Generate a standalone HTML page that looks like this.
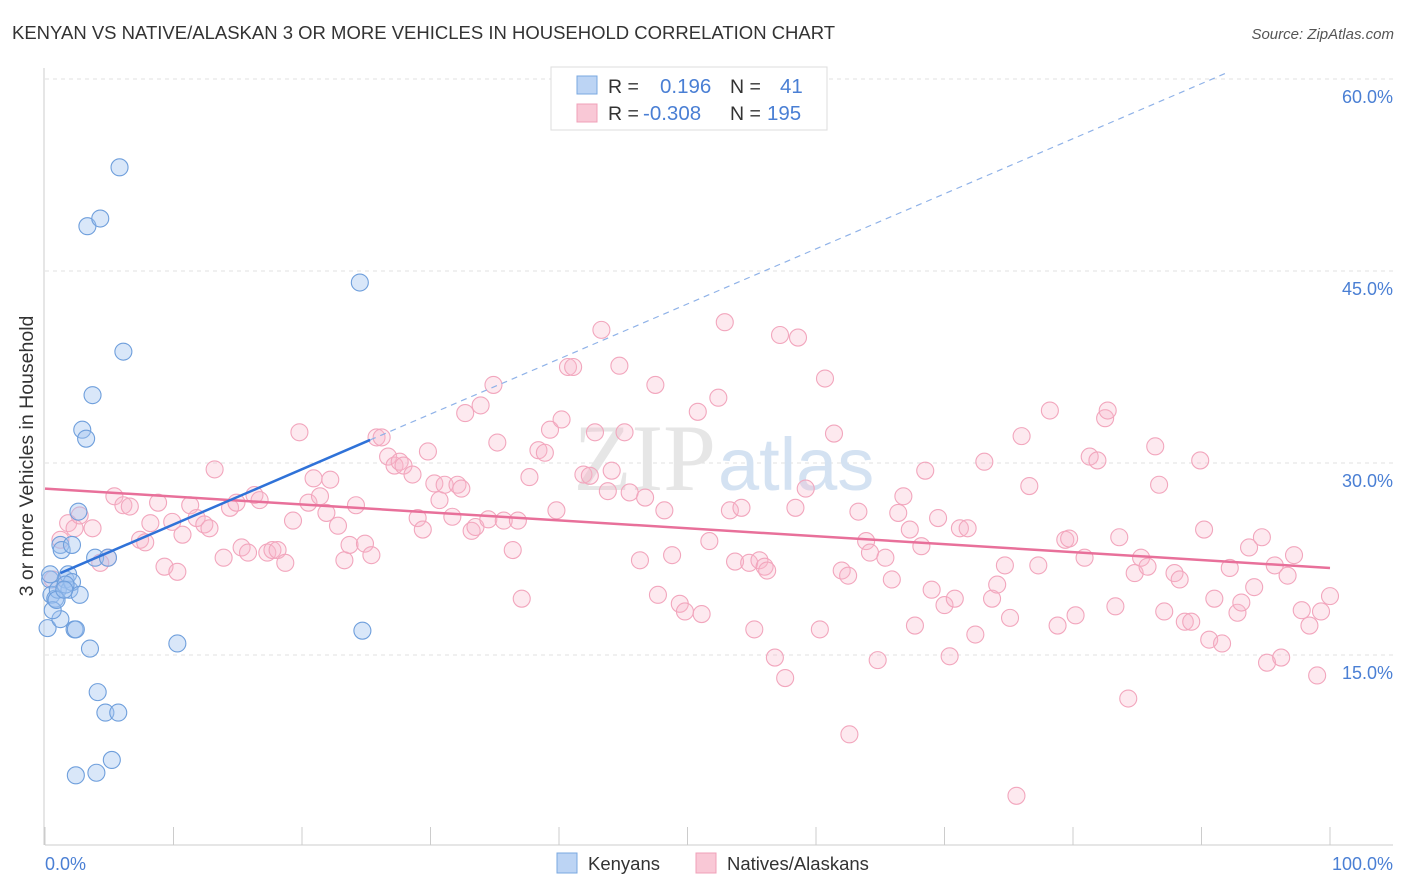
<!DOCTYPE html>
<html><head><meta charset="utf-8">
<style>
body{margin:0;background:#fff;font-family:"Liberation Sans",sans-serif;}
svg{display:block}
</style></head>
<body>
<svg id="chart" width="1406" height="892" viewBox="0 0 1406 892">
<text x="12" y="39" font-size="18.5" fill="#333">KENYAN VS NATIVE/ALASKAN 3 OR MORE VEHICLES IN HOUSEHOLD CORRELATION CHART</text>
<text x="1394" y="39" font-size="15" fill="#555" font-style="italic" text-anchor="end">Source: ZipAtlas.com</text>
<g id="grid"></g>
<text x="716" y="490" font-size="95" fill="#e6e6e6" text-anchor="end" font-family="Liberation Serif,serif">ZIP</text>
<text x="718" y="490" font-size="74" fill="#d4e2f2">atlas</text>
<g id="pts"></g>
<g id="lines"></g>
<text x="33" y="456" font-size="19.5" fill="#333" text-anchor="middle" transform="rotate(-90 33 456)">3 or more Vehicles in Household</text>
<text x="45" y="870" font-size="18" fill="#4a7fd4">0.0%</text>
<text x="1393" y="870" font-size="18" fill="#4a7fd4" text-anchor="end">100.0%</text>
<g>
<rect x="551" y="67" width="276" height="63" fill="#fff" stroke="#ddd"/>
<rect x="577" y="76" width="20" height="18" fill="#bcd4f4" stroke="#7aa8e0"/>
<rect x="577" y="104" width="20" height="18" fill="#f9c8d6" stroke="#f0a0b8"/>
<text x="608" y="93" font-size="19.5" fill="#333">R =</text><text x="660" y="93" font-size="20.5" fill="#4a7fd4">0.196</text>
<text x="730" y="93" font-size="19.5" fill="#333">N =</text><text x="780" y="93" font-size="20.5" fill="#4a7fd4">41</text>
<text x="608" y="120" font-size="19.5" fill="#333">R =</text><text x="643" y="120" font-size="20.5" fill="#4a7fd4">-0.308</text>
<text x="730" y="120" font-size="19.5" fill="#333">N =</text><text x="767" y="120" font-size="20.5" fill="#4a7fd4">195</text>
</g>
<g>
<rect x="557" y="853" width="20" height="20" fill="#bcd4f4" stroke="#7aa8e0"/>
<text x="588" y="870" font-size="18.5" fill="#333">Kenyans</text>
<rect x="696" y="853" width="20" height="20" fill="#f9c8d6" stroke="#f0a0b8"/>
<text x="727" y="870" font-size="18.5" fill="#333">Natives/Alaskans</text>
</g>
</svg>
<script>
const yTicks=[15,30,45,60];
const yTickLabels=["15.0%","30.0%","45.0%","60.0%"];
const xTicks=[0,10,20,30,40,50,60,70,80,90,100];
const kenX=[0.2,0.4,0.5,0.8,1.0,1.2,1.3,1.6,1.8,1.9,2.1,2.3,2.4,2.6,2.7,2.9,3.2,3.3,3.5,3.7,3.9,4.1,4.3,4.7,4.9,5.2,5.7,5.8,6.1,2.4,4.0,10.3,24.5,24.7,1.2,0.6,1.6,2.1,0.4,0.9,1.5];
const kenY=[17.1,20.9,19.7,19.4,20.1,23.6,23.2,20.9,21.3,20.1,20.7,17.0,17.0,26.2,19.7,32.6,31.9,48.5,15.5,35.3,22.6,12.1,49.1,10.5,22.6,6.8,10.5,53.1,38.7,5.6,5.8,15.9,44.1,16.9,17.8,18.5,20.5,23.6,21.3,19.3,20.1];
const natX=[0.6,1.8,2.3,2.7,1.2,3.7,4.3,4.9,5.4,6.1,6.6,7.4,7.8,8.2,8.8,9.3,9.9,10.3,10.7,11.3,11.8,12.4,12.8,13.2,13.9,14.4,14.9,15.3,15.8,16.3,16.7,17.3,17.7,18.1,18.7,19.3,19.8,20.5,20.9,21.4,21.9,22.2,22.8,23.3,23.7,24.2,24.9,25.4,25.8,26.2,26.7,27.2,27.6,27.9,28.6,29.0,29.4,29.8,30.3,30.7,31.1,31.7,32.1,32.4,32.7,33.2,33.5,33.9,34.5,34.9,35.2,35.7,36.4,36.8,37.1,37.7,38.4,38.9,39.3,39.8,40.2,40.7,41.1,41.9,42.4,42.8,43.3,43.8,44.1,44.7,45.1,45.5,46.3,46.7,47.5,47.7,48.2,48.8,49.4,49.8,50.8,51.1,51.7,52.4,52.9,53.3,53.7,54.2,54.8,55.2,55.6,56.0,56.2,56.8,57.2,57.6,58.4,58.6,59.2,60.3,60.7,61.4,62.0,62.5,62.6,63.3,63.9,64.2,64.8,65.4,65.9,66.4,66.8,67.3,67.7,68.2,68.5,69.0,69.5,70.0,70.4,70.8,71.2,71.8,72.4,73.1,73.7,74.1,74.7,75.1,75.6,76.0,76.6,77.3,78.2,78.8,79.4,79.7,80.2,80.9,81.3,81.9,82.5,82.7,83.3,83.6,84.3,84.8,85.3,85.8,86.4,86.7,87.1,87.9,88.3,88.7,89.2,89.9,90.2,90.6,91.0,91.6,92.2,92.8,93.1,93.7,94.1,94.7,95.1,95.7,96.2,96.7,97.2,97.8,98.4,99.0,99.3,100];
const natY=[20.9,25.3,24.9,25.9,24.0,24.9,22.2,22.6,27.4,26.7,26.6,24.0,23.8,25.3,26.9,21.9,25.4,21.5,24.4,26.7,25.7,25.2,24.9,29.5,22.6,26.5,26.9,23.4,23.0,27.5,27.1,23.0,23.2,23.2,22.2,25.5,32.4,26.9,28.8,27.4,26.1,28.7,25.1,22.4,23.6,26.7,23.7,22.8,32.0,32.0,30.5,29.8,30.1,29.8,29.1,25.7,24.8,30.9,28.4,27.1,28.3,25.8,28.3,28.0,33.9,24.7,25.0,34.5,25.6,36.1,31.6,25.5,23.2,25.5,19.4,28.9,31.0,30.8,32.6,26.3,33.4,37.5,37.5,29.1,29.0,32.4,40.4,27.8,29.4,37.6,32.4,27.7,22.4,27.3,36.1,19.7,26.3,22.8,19.0,18.4,34.0,18.2,23.9,35.1,41.0,26.3,22.3,26.5,22.2,17.0,22.4,21.9,21.6,14.8,40.0,13.2,26.5,39.8,28.0,17.0,36.6,32.3,21.6,21.2,8.8,26.2,23.9,23.0,14.6,22.6,20.9,26.1,27.4,24.8,17.3,23.5,29.4,20.1,25.7,18.9,14.9,19.4,24.9,24.9,16.6,30.1,19.4,20.5,22.0,17.9,4.0,32.1,28.2,22.0,34.1,17.3,24.0,24.1,18.1,22.6,30.5,30.2,33.5,34.1,18.8,24.2,11.6,21.4,22.6,21.9,31.3,28.3,18.4,21.4,20.9,17.6,17.6,30.2,24.8,16.2,19.4,15.9,21.8,18.3,19.1,23.4,20.3,24.2,14.4,22.0,14.8,21.2,22.8,18.5,17.3,13.4,18.4,19.6];
const kenTrend=[[1.2,21.4],[25.3,31.8]];
const kenTrendExt=[[25.3,31.8],[92,60.5]];
const natTrend=[[0,28.0],[100,21.8]];

const NS="http://www.w3.org/2000/svg";
const X=v=>45+v*12.85;
const Y=v=>655-(v-15)*12.8;
function mk(tag,attrs,parent){const e=document.createElementNS(NS,tag);for(const k in attrs)e.setAttribute(k,attrs[k]);parent.appendChild(e);return e;}
const grid=document.getElementById('grid');
yTicks.forEach((t,i)=>{
  const l=mk('line',{x1:45,x2:1393,y1:Y(t),y2:Y(t),stroke:'#e0e0e0','stroke-dasharray':'4 4'},grid);
  
  
  const tx=mk('text',{x:1393,y:Y(t)+24,'font-size':18,fill:'#4a7fd4','text-anchor':'end'},grid);
  tx.textContent=yTickLabels[i];
  
  
});
const ax=mk('line',{x1:45,x2:1393,y1:845,y2:845,stroke:'#ccc'},grid);


const ay=mk('line',{x1:44,x2:44,y1:68,y2:845,stroke:'#ccc'},grid);


xTicks.forEach(t=>{
  const l=mk('line',{x1:X(t),x2:X(t),y1:827,y2:845,stroke:'#ccc'},grid);
  
  
});
const pts=document.getElementById('pts');
natX.forEach((v,i)=>{
  const c=mk('circle',{cx:X(v),cy:Y(natY[i]),r:8.5,fill:'rgba(248,182,202,0.3)',stroke:'#f2a6bd','stroke-width':1.1},pts);
  
  
});
kenX.forEach((v,i)=>{
  const c=mk('circle',{cx:X(v),cy:Y(kenY[i]),r:8.5,fill:'rgba(160,195,240,0.4)',stroke:'#6f9fdc','stroke-width':1.1},pts);
  
  
});
const lines=document.getElementById('lines');
const l1=mk('line',{x1:X(natTrend[0][0]),y1:Y(natTrend[0][1]),x2:X(natTrend[1][0]),y2:Y(natTrend[1][1]),stroke:'#e8709a','stroke-width':2.5},lines);


const l2=mk('line',{x1:X(kenTrend[0][0]),y1:Y(kenTrend[0][1]),x2:X(kenTrend[1][0]),y2:Y(kenTrend[1][1]),stroke:'#2f72d8','stroke-width':2.5},lines);


const l3=mk('line',{x1:X(kenTrendExt[0][0]),y1:Y(kenTrendExt[0][1]),x2:X(kenTrendExt[1][0]),y2:Y(kenTrendExt[1][1]),stroke:'#8fb2e8','stroke-width':1.2,'stroke-dasharray':'6 5'},lines);


</script>
</body></html>
